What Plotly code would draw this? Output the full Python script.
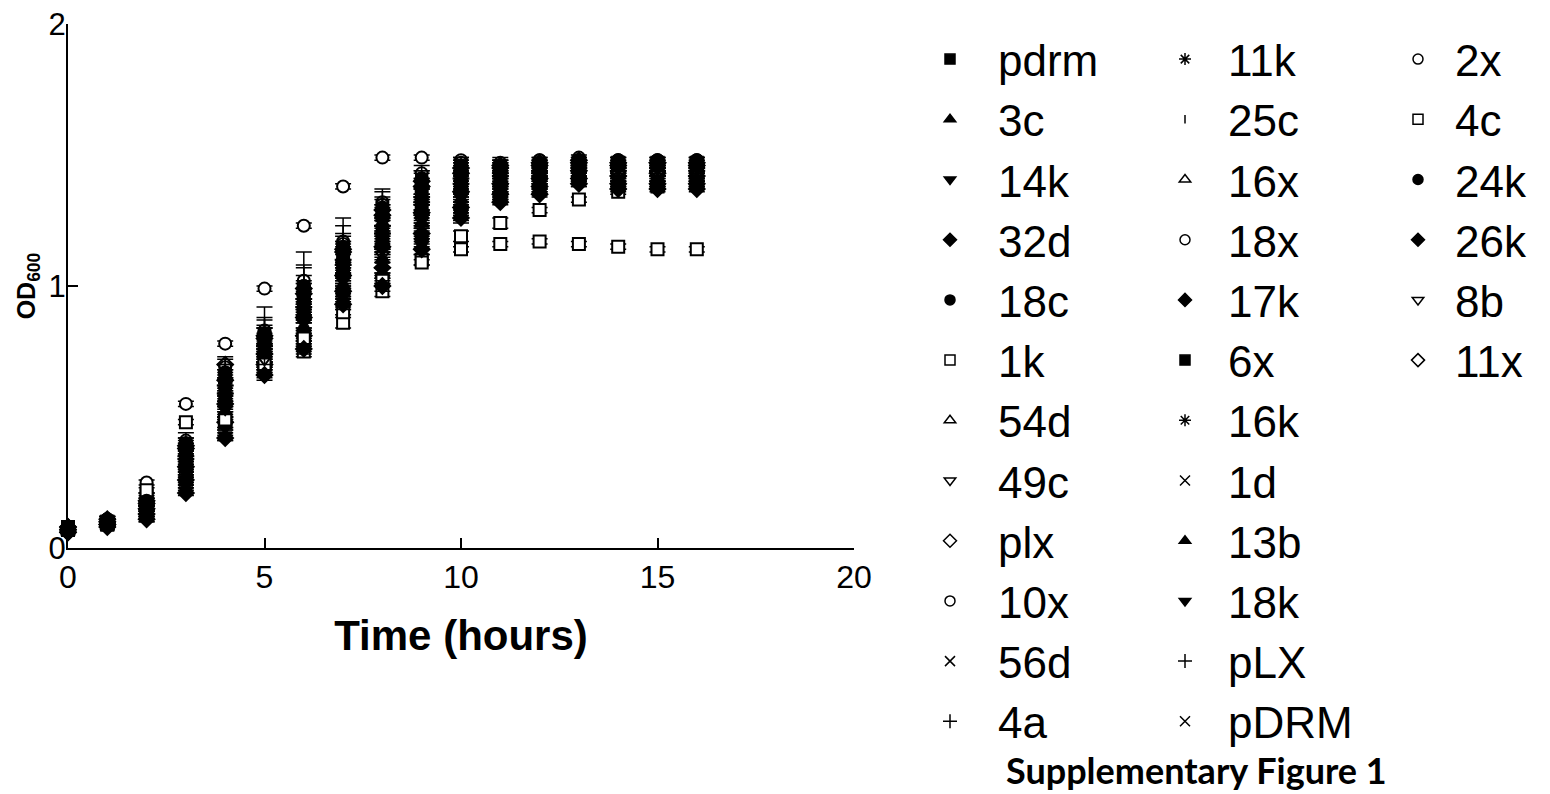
import plotly.graph_objects as go

# ---------------- data ----------------
hours = [0, 1, 2, 3, 4, 5, 6, 7, 8, 9, 10, 11, 12, 13, 14, 15, 16]

s_pdrm = [0.07, 0.10, 0.16, 0.33, 0.57, 0.76, 0.92, 1.07, 1.18, 1.31, 1.38, 1.41, 1.43, 1.45, 1.44, 1.45, 1.44]
s_3c   = [0.07, 0.09, 0.13, 0.28, 0.52, 0.71, 0.84, 1.00, 1.10, 1.24, 1.33, 1.37, 1.40, 1.42, 1.41, 1.41, 1.40]
s_14k  = [0.06, 0.08, 0.11, 0.22, 0.43, 0.67, 0.77, 0.94, 1.02, 1.16, 1.27, 1.33, 1.36, 1.39, 1.38, 1.38, 1.38]
s_32d  = [0.07, 0.09, 0.15, 0.31, 0.55, 0.74, 0.88, 1.04, 1.15, 1.28, 1.36, 1.39, 1.41, 1.44, 1.42, 1.43, 1.42]
s_18c  = [0.07, 0.10, 0.16, 0.35, 0.61, 0.78, 0.94, 1.09, 1.22, 1.34, 1.40, 1.43, 1.44, 1.46, 1.45, 1.45, 1.45]
s_1k   = [0.07, 0.09, 0.20, 0.27, 0.48, 0.69, 0.75, 0.86, 0.98, 1.10, 1.19, 1.24, 1.29, 1.33, 1.36, 1.38, 1.39]
s_54d  = [0.07, 0.10, 0.15, 0.32, 0.57, 0.75, 0.90, 1.06, 1.17, 1.29, 1.37, 1.40, 1.42, 1.44, 1.43, 1.43, 1.43]
s_49c  = [0.07, 0.09, 0.14, 0.30, 0.54, 0.73, 0.87, 1.03, 1.14, 1.26, 1.35, 1.38, 1.41, 1.43, 1.42, 1.42, 1.41]
s_plx  = [0.08, 0.11, 0.18, 0.39, 0.70, 0.81, 0.99, 1.14, 1.29, 1.40, 1.45, 1.46, 1.47, 1.48, 1.47, 1.47, 1.47]
s_10x  = [0.07, 0.10, 0.25, 0.55, 0.78, 0.99, 1.23, 1.38, 1.49, 1.49, 1.48, 1.46, 1.45, 1.44, 1.43, 1.43, 1.42]
s_56d  = [0.07, 0.09, 0.14, 0.29, 0.52, 0.72, 0.85, 1.02, 1.12, 1.25, 1.34, 1.38, 1.40, 1.43, 1.41, 1.41, 1.41]
s_4a   = [0.07, 0.10, 0.16, 0.34, 0.59, 0.77, 0.92, 1.08, 1.20, 1.32, 1.39, 1.42, 1.43, 1.45, 1.44, 1.44, 1.44]
s_11k  = [0.08, 0.10, 0.17, 0.37, 0.63, 0.80, 0.96, 1.12, 1.26, 1.37, 1.42, 1.44, 1.46, 1.47, 1.46, 1.46, 1.46]
s_25c  = [0.07, 0.10, 0.15, 0.32, 0.56, 0.75, 0.89, 1.06, 1.17, 1.30, 1.37, 1.40, 1.42, 1.44, 1.43, 1.43, 1.43]
s_16x  = [0.07, 0.10, 0.17, 0.36, 0.62, 0.79, 0.95, 1.11, 1.24, 1.35, 1.41, 1.43, 1.45, 1.46, 1.45, 1.45, 1.45]
s_18x  = [0.08, 0.11, 0.18, 0.40, 0.67, 0.82, 1.00, 1.16, 1.31, 1.41, 1.46, 1.46, 1.48, 1.48, 1.48, 1.48, 1.48]
s_17k  = [0.06, 0.09, 0.13, 0.26, 0.48, 0.70, 0.81, 0.98, 1.07, 1.20, 1.30, 1.35, 1.38, 1.41, 1.39, 1.39, 1.39]
s_6x   = [0.08, 0.10, 0.17, 0.38, 0.65, 0.80, 0.98, 1.13, 1.27, 1.38, 1.44, 1.45, 1.46, 1.47, 1.47, 1.47, 1.47]
s_16k  = [0.07, 0.09, 0.13, 0.27, 0.50, 0.70, 0.83, 0.99, 1.09, 1.22, 1.32, 1.36, 1.39, 1.42, 1.40, 1.40, 1.40]
s_1d   = [0.07, 0.10, 0.16, 0.33, 0.58, 0.77, 0.92, 1.07, 1.20, 1.31, 1.38, 1.41, 1.43, 1.45, 1.44, 1.44, 1.43]
s_13b  = [0.06, 0.08, 0.12, 0.25, 0.47, 0.69, 0.80, 0.97, 1.05, 1.19, 1.29, 1.34, 1.37, 1.41, 1.39, 1.39, 1.39]
s_18k  = [0.06, 0.08, 0.12, 0.24, 0.46, 0.68, 0.79, 0.96, 1.03, 1.17, 1.28, 1.34, 1.36, 1.40, 1.38, 1.38, 1.38]
s_pLX  = [0.07, 0.10, 0.16, 0.35, 0.62, 0.78, 0.95, 1.10, 1.23, 1.34, 1.41, 1.43, 1.44, 1.46, 1.45, 1.45, 1.45]
s_pDRM = [0.07, 0.10, 0.15, 0.31, 0.56, 0.74, 0.89, 1.05, 1.16, 1.29, 1.37, 1.40, 1.42, 1.44, 1.43, 1.43, 1.42]
s_2x   = [0.08, 0.11, 0.19, 0.41, 0.69, 0.83, 1.02, 1.17, 1.32, 1.43, 1.47, 1.47, 1.48, 1.49, 1.48, 1.48, 1.48]
s_4c   = [0.07, 0.09, 0.22, 0.48, 0.49, 0.70, 0.80, 0.90, 1.02, 1.09, 1.14, 1.16, 1.17, 1.16, 1.15, 1.14, 1.14]
s_24k  = [0.08, 0.11, 0.18, 0.40, 0.67, 0.82, 1.00, 1.15, 1.30, 1.41, 1.46, 1.46, 1.47, 1.48, 1.48, 1.48, 1.48]
s_26k  = [0.06, 0.08, 0.11, 0.21, 0.42, 0.66, 0.76, 0.93, 1.00, 1.14, 1.26, 1.32, 1.35, 1.39, 1.37, 1.37, 1.37]
s_8b   = [0.07, 0.09, 0.14, 0.29, 0.53, 0.72, 0.86, 1.02, 1.12, 1.25, 1.34, 1.37, 1.40, 1.43, 1.41, 1.41, 1.41]
s_11x  = [0.08, 0.10, 0.17, 0.38, 0.64, 0.80, 0.97, 1.13, 1.27, 1.38, 1.43, 1.45, 1.46, 1.47, 1.46, 1.47, 1.46]

# error bars (+/-)
e_pdrm = [0.00, 0.01, 0.01, 0.02, 0.02, 0.03, 0.03, 0.03, 0.03, 0.02, 0.02, 0.02, 0.02, 0.01, 0.01, 0.01, 0.01]
e_3c   = [0.00, 0.00, 0.01, 0.02, 0.03, 0.02, 0.03, 0.02, 0.03, 0.02, 0.02, 0.01, 0.01, 0.01, 0.01, 0.01, 0.01]
e_14k  = [0.00, 0.00, 0.01, 0.01, 0.02, 0.02, 0.02, 0.02, 0.02, 0.02, 0.02, 0.01, 0.01, 0.01, 0.01, 0.01, 0.01]
e_32d  = [0.00, 0.01, 0.01, 0.02, 0.02, 0.03, 0.04, 0.03, 0.03, 0.03, 0.02, 0.02, 0.01, 0.01, 0.01, 0.01, 0.01]
e_18c  = [0.00, 0.01, 0.01, 0.02, 0.03, 0.03, 0.04, 0.04, 0.03, 0.03, 0.02, 0.02, 0.02, 0.01, 0.01, 0.01, 0.01]
e_1k   = [0.00, 0.00, 0.01, 0.01, 0.02, 0.02, 0.02, 0.02, 0.02, 0.02, 0.02, 0.02, 0.01, 0.01, 0.01, 0.01, 0.01]
e_54d  = [0.00, 0.01, 0.01, 0.02, 0.02, 0.02, 0.03, 0.03, 0.03, 0.02, 0.02, 0.02, 0.01, 0.01, 0.01, 0.01, 0.01]
e_49c  = [0.00, 0.00, 0.01, 0.02, 0.02, 0.02, 0.03, 0.03, 0.02, 0.02, 0.02, 0.01, 0.01, 0.01, 0.01, 0.01, 0.01]
e_plx  = [0.00, 0.01, 0.01, 0.02, 0.02, 0.04, 0.05, 0.05, 0.04, 0.03, 0.02, 0.02, 0.01, 0.01, 0.01, 0.01, 0.01]
e_10x  = [0.00, 0.00, 0.01, 0.01, 0.01, 0.01, 0.01, 0.01, 0.01, 0.01, 0.01, 0.01, 0.01, 0.01, 0.01, 0.01, 0.01]
e_56d  = [0.00, 0.00, 0.01, 0.02, 0.02, 0.02, 0.03, 0.03, 0.03, 0.02, 0.02, 0.02, 0.01, 0.01, 0.01, 0.01, 0.01]
e_4a   = [0.00, 0.01, 0.01, 0.02, 0.03, 0.03, 0.03, 0.04, 0.03, 0.03, 0.02, 0.02, 0.01, 0.01, 0.01, 0.01, 0.01]
e_11k  = [0.00, 0.01, 0.01, 0.02, 0.03, 0.04, 0.05, 0.04, 0.04, 0.03, 0.02, 0.02, 0.02, 0.01, 0.01, 0.01, 0.01]
e_25c  = [0.00, 0.00, 0.01, 0.02, 0.02, 0.03, 0.03, 0.03, 0.03, 0.02, 0.02, 0.02, 0.01, 0.01, 0.01, 0.01, 0.01]
e_16x  = [0.00, 0.01, 0.01, 0.02, 0.03, 0.03, 0.04, 0.04, 0.03, 0.03, 0.02, 0.02, 0.01, 0.01, 0.01, 0.01, 0.01]
e_18x  = [0.00, 0.01, 0.02, 0.02, 0.03, 0.05, 0.08, 0.07, 0.05, 0.03, 0.02, 0.02, 0.01, 0.01, 0.01, 0.01, 0.01]
e_17k  = [0.00, 0.00, 0.01, 0.02, 0.02, 0.02, 0.02, 0.02, 0.02, 0.02, 0.02, 0.01, 0.01, 0.01, 0.01, 0.01, 0.01]
e_6x   = [0.00, 0.01, 0.01, 0.02, 0.03, 0.04, 0.04, 0.04, 0.04, 0.03, 0.02, 0.02, 0.01, 0.01, 0.01, 0.01, 0.01]
e_16k  = [0.00, 0.00, 0.01, 0.02, 0.02, 0.02, 0.03, 0.02, 0.02, 0.02, 0.02, 0.01, 0.01, 0.01, 0.01, 0.01, 0.01]
e_1d   = [0.00, 0.01, 0.01, 0.02, 0.02, 0.03, 0.03, 0.03, 0.03, 0.02, 0.02, 0.02, 0.01, 0.01, 0.01, 0.01, 0.01]
e_13b  = [0.00, 0.00, 0.01, 0.01, 0.02, 0.02, 0.02, 0.02, 0.02, 0.02, 0.02, 0.01, 0.01, 0.01, 0.01, 0.01, 0.01]
e_18k  = [0.00, 0.00, 0.01, 0.01, 0.02, 0.02, 0.02, 0.02, 0.02, 0.02, 0.02, 0.01, 0.01, 0.01, 0.01, 0.01, 0.01]
e_pLX  = [0.00, 0.01, 0.01, 0.02, 0.03, 0.03, 0.04, 0.03, 0.03, 0.03, 0.02, 0.02, 0.01, 0.01, 0.01, 0.01, 0.01]
e_pDRM = [0.00, 0.00, 0.01, 0.02, 0.02, 0.03, 0.03, 0.03, 0.03, 0.02, 0.02, 0.02, 0.01, 0.01, 0.01, 0.01, 0.01]
e_2x   = [0.00, 0.01, 0.02, 0.03, 0.04, 0.09, 0.11, 0.09, 0.05, 0.03, 0.02, 0.02, 0.01, 0.01, 0.01, 0.01, 0.01]
e_4c   = [0.00, 0.00, 0.01, 0.01, 0.01, 0.01, 0.01, 0.01, 0.01, 0.01, 0.01, 0.01, 0.01, 0.01, 0.01, 0.01, 0.01]
e_24k  = [0.00, 0.01, 0.01, 0.02, 0.03, 0.06, 0.07, 0.05, 0.04, 0.03, 0.02, 0.02, 0.01, 0.01, 0.01, 0.01, 0.01]
e_26k  = [0.00, 0.00, 0.01, 0.01, 0.01, 0.02, 0.02, 0.02, 0.02, 0.02, 0.02, 0.01, 0.01, 0.01, 0.01, 0.01, 0.01]
e_8b   = [0.00, 0.00, 0.01, 0.02, 0.02, 0.02, 0.03, 0.03, 0.02, 0.02, 0.02, 0.01, 0.01, 0.01, 0.01, 0.01, 0.01]
e_11x  = [0.00, 0.01, 0.01, 0.02, 0.03, 0.04, 0.04, 0.04, 0.04, 0.03, 0.02, 0.02, 0.01, 0.01, 0.01, 0.01, 0.01]

legend_col1 = ["pdrm", "3c", "14k", "32d", "18c", "1k", "54d", "49c", "plx", "10x", "56d", "4a"]
legend_col2 = ["11k", "25c", "16x", "18x", "17k", "6x", "16k", "1d", "13b", "18k", "pLX", "pDRM"]
legend_col3 = ["2x", "4c", "24k", "26k", "8b", "11x"]

values = {
    "pdrm": s_pdrm, "3c": s_3c, "14k": s_14k, "32d": s_32d, "18c": s_18c, "1k": s_1k,
    "54d": s_54d, "49c": s_49c, "plx": s_plx, "10x": s_10x, "56d": s_56d, "4a": s_4a,
    "11k": s_11k, "25c": s_25c, "16x": s_16x, "18x": s_18x, "17k": s_17k, "6x": s_6x,
    "16k": s_16k, "1d": s_1d, "13b": s_13b, "18k": s_18k, "pLX": s_pLX, "pDRM": s_pDRM,
    "2x": s_2x, "4c": s_4c, "24k": s_24k, "26k": s_26k, "8b": s_8b, "11x": s_11x,
}
errors = {
    "pdrm": e_pdrm, "3c": e_3c, "14k": e_14k, "32d": e_32d, "18c": e_18c, "1k": e_1k,
    "54d": e_54d, "49c": e_49c, "plx": e_plx, "10x": e_10x, "56d": e_56d, "4a": e_4a,
    "11k": e_11k, "25c": e_25c, "16x": e_16x, "18x": e_18x, "17k": e_17k, "6x": e_6x,
    "16k": e_16k, "1d": e_1d, "13b": e_13b, "18k": e_18k, "pLX": e_pLX, "pDRM": e_pDRM,
    "2x": e_2x, "4c": e_4c, "24k": e_24k, "26k": e_26k, "8b": e_8b, "11x": e_11x,
}

# marker styles: (symbol, kind) kind: 'fill' black filled, 'open' outline only,
# 'white' outline with white face, 'line' line-type symbol
styles = {
    "pdrm": ("square", "fill"), "3c": ("triangle-up", "fill"), "14k": ("triangle-down", "fill"),
    "32d": ("diamond", "fill"), "18c": ("circle", "fill"), "1k": ("square", "white"),
    "54d": ("triangle-up", "open"), "49c": ("triangle-down", "open"), "plx": ("diamond", "open"),
    "10x": ("circle", "white"), "56d": ("x-thin-open", "line"), "4a": ("cross-thin-open", "line"),
    "11k": ("asterisk-open", "line"), "25c": ("line-ns-open", "line"), "16x": ("triangle-up", "open"),
    "18x": ("circle", "open"), "17k": ("diamond", "fill"), "6x": ("square", "fill"),
    "16k": ("asterisk-open", "line"), "1d": ("x-thin-open", "line"), "13b": ("triangle-up", "fill"),
    "18k": ("triangle-down", "fill"), "pLX": ("cross-thin-open", "line"), "pDRM": ("x-thin-open", "line"),
    "2x": ("circle", "open"), "4c": ("square", "white"), "24k": ("circle", "fill"),
    "26k": ("diamond", "fill"), "8b": ("triangle-down", "open"), "11x": ("diamond", "open"),
}


def marker_for(name, size, lw):
    sym, kind = styles[name]
    if kind == "line":
        sz = size * 0.6 if sym == "line-ns-open" else size
        return dict(symbol=sym, size=sz, color="black", line=dict(color="black", width=lw))
    if kind == "fill":
        return dict(symbol=sym, size=size, color="black", line=dict(color="black", width=lw))
    if kind == "white":
        return dict(symbol=sym, size=size, color="white", line=dict(color="black", width=lw))
    return dict(symbol=sym + "-open", size=size, color="black", line=dict(color="black", width=lw))


# ---------------- geometry (page body has an 8px margin) ----------------
OFF = 8
FIG_W, FIG_H = 1550 - OFF, 794 - OFF
PL = 68 - OFF          # x = 0
PXR = 854 - OFF        # x = 20
PT = 24 - OFF          # y = 2
PB = 548 - OFF         # y = 0
W = FIG_W - PL
H = PB - PT


def px_x(p):
    return (p - OFF - PL) / W


def px_y(p):
    return (PB - (p - OFF)) / H


fig = go.Figure()

all_names = legend_col1 + legend_col2 + legend_col3
for name in all_names:
    fig.add_trace(go.Scatter(
        x=hours, y=values[name], mode="markers", name=name, showlegend=False,
        marker=marker_for(name, 12, 2), cliponaxis=False,
        error_y=dict(type="data", array=errors[name], color="black", thickness=1.5, width=8),
    ))

for legend_id, col in (("legend", legend_col1), ("legend2", legend_col2), ("legend3", legend_col3)):
    for name in col:
        fig.add_trace(go.Scatter(
            x=[None], y=[None], mode="markers", name=name, legend=legend_id,
            marker=marker_for(name, 10, 1.5), showlegend=True,
        ))

legend_font = dict(family="Liberation Sans, Arial, sans-serif", size=44, color="black")
common_legend = dict(xanchor="left", yanchor="top", font=legend_font, bgcolor="rgba(0,0,0,0)",
                     borderwidth=0, tracegroupgap=0, orientation="v", maxheight=780,
                     itemclick=False, itemdoubleclick=False)

fig.update_layout(
    width=FIG_W, height=FIG_H,
    paper_bgcolor="white", plot_bgcolor="white",
    margin=dict(l=PL, r=0, t=PT, b=FIG_H - PB, autoexpand=False),
    legend=dict(x=px_x(902), y=px_y(24), itemwidth=86, **common_legend),
    legend2=dict(x=px_x(1142), y=px_y(24), itemwidth=76, **common_legend),
    legend3=dict(x=px_x(1381), y=px_y(24), itemwidth=64, **common_legend),
    xaxis=dict(
        domain=[0, (PXR - PL) / W],
        range=[0, 20], tickvals=[0, 5, 10, 15, 20], ticks="inside", ticklen=10, tickwidth=2,
        tickcolor="black", showline=True, linewidth=2, linecolor="black", mirror=False,
        showgrid=False, zeroline=False, ticklabeloverflow="allow",
        tickfont=dict(family="Liberation Sans, Arial, sans-serif", size=32, color="black"),
        title=dict(text="Time (hours)", standoff=26,
                   font=dict(family="Liberation Sans, Arial, sans-serif", size=42,
                             color="black", weight="bold")),
    ),
    yaxis=dict(
        range=[0, 2], tickvals=[0, 1, 2], ticks="inside", ticklen=10, tickwidth=2,
        tickcolor="black", showline=True, linewidth=2, linecolor="black", mirror=False,
        showgrid=False, zeroline=False, ticklabelstandoff=-6, ticklabeloverflow="allow",
        tickfont=dict(family="Liberation Sans, Arial, sans-serif", size=31, color="black"),
        title=dict(text="OD<sub>600</sub>", standoff=6,
                   font=dict(family="Liberation Sans, Arial, sans-serif", size=25,
                             color="black", weight="bold")),
    ),
    annotations=[dict(
        text="Supplementary Figure 1", xref="paper", yref="paper",
        x=px_x(1196), y=px_y(770), xanchor="center", yanchor="middle", showarrow=False,
        font=dict(family="Lato, Open Sans, sans-serif", size=36, color="black", weight="bold"),
    )],
)

fig.write_html("out.html")
